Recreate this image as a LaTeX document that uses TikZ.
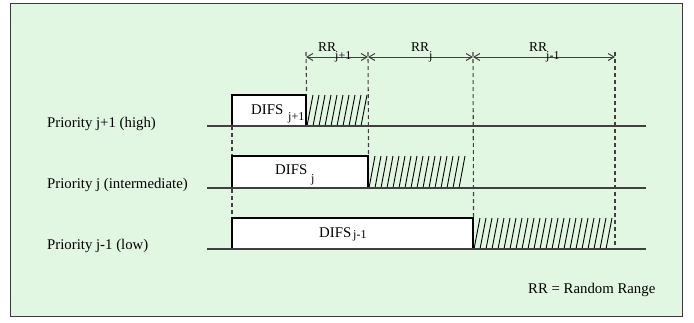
\documentclass[tikz,border=0pt]{standalone}
\usepackage{fontspec}
\setmainfont{Liberation Serif}
\usetikzlibrary{arrows.meta}
\definecolor{bggreen}{HTML}{E2F7E2}
\definecolor{framegray}{HTML}{3A3A3A}
\definecolor{linegray}{HTML}{404040}
\begin{document}
\begin{tikzpicture}[x=1pt,y=-1pt,
  txt/.style={font=\fontsize{14.8}{16}\selectfont, inner sep=0pt, anchor=base west},
  subtxt/.style={font=\fontsize{12}{13}\selectfont, inner sep=0pt, anchor=base west},
  rrtxt/.style={font=\fontsize{13.5}{15}\selectfont, inner sep=0pt, anchor=base west},
  difsbox/.style={draw=black, fill=white, line width=1.1pt, inner sep=0pt},
  baseline/.style={draw=linegray, line width=1.5pt},
  vdash/.style={draw=linegray, line width=1.1pt, dash pattern=on 4pt off 3pt},
  hatch/.style={draw=black, line width=0.9pt},
  rrarrow/.style={draw=linegray, line width=1pt, {Straight Barb[length=6pt,width=7pt]}-{Straight Barb[length=6pt,width=7pt]}}
]
\useasboundingbox (0,0) rectangle (694,322);
\draw[fill=bggreen, draw=framegray, line width=1pt] (10,3) rectangle (682,316);

% time lines
\coordinate (h0) at (207,126); \coordinate (h1) at (646,126);
\coordinate (m0) at (207,188); \coordinate (m1) at (646,188);
\coordinate (l0) at (207,249); \coordinate (l1) at (646,249);

% left dashed line (behind boxes)
\coordinate (dl0) at (232,126); \coordinate (dl1) at (232,218);
\draw[vdash] (dl0) -- (dl1);

% hatching
\foreach \x in {307,313,...,362} \draw[hatch] (\x,126) -- (\x+6,95);
\foreach \x in {369,375,...,464} \draw[hatch] (\x,188) -- (\x+6,156);
\foreach \x in {474,480,...,609} \draw[hatch] (\x,249) -- (\x+6,218);

% boxes
\node[difsbox, minimum width=74pt, minimum height=31pt] (b1) at (269,110.5) {};
\node[difsbox, minimum width=136pt, minimum height=32pt] (b2) at (300,172) {};
\node[difsbox, minimum width=241pt, minimum height=31pt] (b3) at (352.5,233.5) {};

\draw[baseline] (h0) -- (h1);
\draw[baseline] (m0) -- (m1);
\draw[baseline] (l0) -- (l1);

% vertical dashed lines
\coordinate (t1) at (306,52);
\coordinate (t2) at (368,52);
\coordinate (t3) at (473,52);
\coordinate (t4) at (615,52);
\coordinate (e4) at (615,249);
\draw[vdash] (t1) -- (b1.north east);
\draw[vdash] (t2) -- (b2.north east);
\draw[vdash] (t3) -- (b3.north east);
\draw[vdash] (t4) -- (e4);

% RR arrows
\coordinate (a1) at (306,57);
\coordinate (a2) at (368,57);
\coordinate (a3) at (473,57);
\coordinate (a4) at (615,57);
\draw[rrarrow] (a1) -- (a2);
\draw[rrarrow] (a2) -- (a3);
\draw[rrarrow] (a3) -- (a4);

\node[rrtxt] (rr1) at (318,51) {RR};
\node[subtxt] (rr1s) at (335,59) {j+1};
\node[rrtxt] (rr2) at (411,51) {RR};
\node[subtxt] (rr2s) at (429,59) {j};
\node[rrtxt] (rr3) at (529,51) {RR};
\node[subtxt] (rr3s) at (546,59) {j-1};

% DIFS labels
\node[txt] (d1) at (251,114) {DIFS};
\node[subtxt] (d1s) at (288,120) {j+1};
\node[txt] (d2) at (275,174) {DIFS};
\node[subtxt] (d2s) at (311,182) {j};
\node[txt] (d3) at (319,237) {DIFS};
\node[subtxt] (d3s) at (353,238) {j-1};

% priority labels
\node[txt] (p1) at (47,127) {Priority j+1 (high)};
\node[txt] (p2) at (47,188) {Priority j (intermediate)};
\node[txt] (p3) at (47,249) {Priority j-1 (low)};

\node[txt] (leg) at (528,293) {RR = Random Range};
\end{tikzpicture}
\end{document}
